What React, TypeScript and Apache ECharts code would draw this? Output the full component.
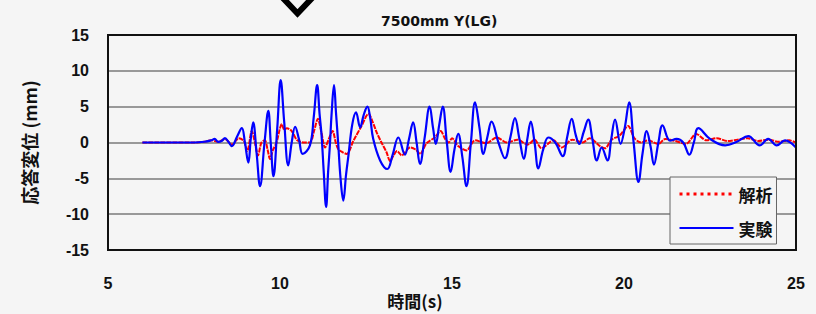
import React, { useEffect, useRef } from "react";
import * as echarts from "echarts";

const chartTitle = "7500mm Y(LG)";
const xAxisName = "時間(s)";
const yAxisName = "応答変位 (mm)";
const seriesNames = ["解析", "実験"];
const xTicks = { min: 5, max: 25, interval: 5 };
const yTicks = { min: -15, max: 15, interval: 5 };

// 実験 (experiment) – time [s]
const expTime = [
  6.0, 7.5, 7.8, 8.0, 8.1, 8.2, 8.3, 8.4, 8.5, 8.6, 8.75, 8.89, 8.98, 9.08, 9.15, 9.22, 9.32, 9.42, 9.55, 9.66,
  9.73, 9.81, 9.92, 10.02, 10.12, 10.24, 10.34, 10.44, 10.55, 10.66, 10.87, 10.98, 11.08, 11.15, 11.21, 11.27,
  11.34, 11.4, 11.45, 11.5, 11.57, 11.63, 11.69, 11.76, 11.84, 11.92, 11.99, 12.1, 12.21, 12.33, 12.43, 12.54,
  12.62, 12.71, 12.91, 13.12, 13.27, 13.44, 13.63, 13.75, 13.87, 13.97, 14.07, 14.2, 14.35, 14.45, 14.53, 14.63,
  14.73, 14.85, 14.96, 15.07, 15.18, 15.3, 15.42, 15.55, 15.67, 15.8, 15.91, 16.03, 16.15, 16.35, 16.54, 16.7,
  16.83, 16.96, 17.09, 17.19, 17.29, 17.4, 17.51, 17.65, 17.8, 18.0, 18.22, 18.35, 18.48, 18.6, 18.7, 18.83,
  18.96, 19.08, 19.21, 19.35, 19.52, 19.63, 19.74, 19.9, 20.02, 20.15, 20.28, 20.42, 20.54, 20.66, 20.77, 20.87,
  21.0, 21.12, 21.34, 21.53, 21.72, 21.9, 22.03, 22.16, 22.5, 22.94, 23.28, 23.61, 23.95, 24.19, 24.44, 24.68, 25.0,
];
// 実験 (experiment) – displacement [mm]
const expDisp = [
  0, 0, 0.1, 0.3, 0.5, 0.1, 0.2, 0.6, 0.1, -0.5, 0.8, 2.0, 0.0, -2.8, 0.5, 2.8, -1.5, -6.1, 0.0, 4.4,
  0.0, -4.7, 2.0, 8.7, 3.0, -3.2, 0.0, 2.2, 0.5, -1.6, -0.4, 3.5, 8.0, 4.0, 0.9, -4.0,
  -9.0, -4.0, -0.4, 4.0, 8.0, 4.0, 0.0, -5.0, -8.1, -4.5, -1.8, 2.5, 4.2, 2.1, 3.8, 5.0,
  3.5, 0.5, -2.5, -3.7, -1.8, 0.7, -1.7, 0.5, 2.8, 0.0, -3.0, 0.5, 5.0, 2.0, -0.2, 2.5,
  5.0, 0.0, -4.1, -1.0, 1.2, -2.0, -6.1, 0.0, 5.6, 2.0, -1.6, 0.8, 2.9, 0.0, -2.2, 0.8,
  3.4, 0.5, -2.3, 0.5, 2.9, 0.0, -3.6, -1.0, 0.7, 0.0, -1.9, 0.8, 3.3, 1.0, -0.2, 1.5,
  3.2, 0.5, -2.5, -0.7, -2.5, 0.5, 3.2, -0.2, 2.0, 5.6, 0.0, -5.5, -1.5, 1.6, -0.5, -3.1,
  0.0, 2.4, 0.25, 0.5, 0.0, -1.7, 0.0, 2.0, 0.5, -0.4, 0.1, 0.9, -0.4, 0.5, -0.4, 0.3, -0.7,
];

// 解析 (analysis) – time [s]
const anaTime = [
  6.0, 7.5, 7.8, 8.0, 8.2, 8.4, 8.6, 8.8, 8.95, 9.05, 9.18, 9.27, 9.36, 9.46, 9.56, 9.64, 9.71, 9.8, 9.9, 10.0,
  10.05, 10.12, 10.2, 10.34, 10.5, 10.7, 10.87, 11.0, 11.1, 11.2, 11.31, 11.42, 11.53, 11.62, 11.69, 11.8, 11.94,
  12.13, 12.37, 12.57, 12.7, 12.81, 12.95, 13.1, 13.2, 13.3, 13.4, 13.54, 13.78, 13.95, 14.07, 14.26, 14.5, 14.67,
  14.8, 14.9, 15.0, 15.18, 15.42, 15.67, 15.99, 16.3, 16.6, 16.9, 17.2, 17.4, 17.6, 17.95, 18.19, 18.5, 18.8, 19.0,
  19.3, 19.45, 19.64, 19.87, 20.12, 20.3, 20.5, 20.7, 21.0, 21.2, 21.5, 21.8, 22.1, 22.4, 22.7, 23.0, 23.3, 23.6,
  23.9, 24.2, 24.5, 24.8, 25.0,
];
// 解析 (analysis) – displacement [mm]
const anaDisp = [
  0, 0, 0.1, 0.3, 0.1, 0.5, -0.3, 0.6, 0.2, -1.2, 1.6, 0.0, -1.8, 0.0, 0.3, -1.0, -2.3, -1.0, 0.0, 2.0,
  2.6, 1.8, 2.0, 1.6, 0.3, 0.0, 0.0, 1.8, 3.3, 1.5, -0.7, 0.5, 1.6, 0.0, -0.9, -1.3, -1.6,
  0.2, 2.3, 4.0, 2.8, 1.4, 0.0, -1.4, -2.6, -1.8, -1.2, -1.8, -0.7, -1.0, -1.6, -0.1, 0.7, 1.6,
  0.5, 0.0, 0.6, -0.5, -1.1, 0.3, -0.1, 0.7, 0.0, 0.4, -0.3, 0.4, -0.8, 0.3, -0.7, 0.4, 0.0, 0.6,
  -0.5, -0.8, 0.4, 0.95, 2.3, 0.6, 0.0, 0.3, -0.2, 0.5, 0.2, -0.2, 1.2, 0.3, 0.6, 0.2, 0.4, 0.6,
  0.2, 0.4, 0.1, 0.3, 0.0,
];

const zip = (xs: number[], ys: number[]) => xs.map((x, i) => [x, ys[i]]);

const BG = "#f5f5f5";
const TITLE_FONT = "'DejaVu Sans', sans-serif";
const LATIN = "'Liberation Sans', Arial, sans-serif";
const CJK = "'Noto Sans CJK JP', sans-serif";

export default function App() {
  const ref = useRef<HTMLDivElement>(null);

  useEffect(() => {
    document.body.style.margin = "0";
    document.body.style.background = BG;
    if (!ref.current) return;
    const chart = echarts.init(ref.current, undefined, { renderer: "svg" });
    const gridL = 108, gridT = 35, gridR = 20, gridB = 64;
    chart.setOption({
      animation: false,
      backgroundColor: BG,
      title: {
        text: chartTitle,
        left: 381,
        top: 14,
        padding: 0,
        textStyle: { fontFamily: TITLE_FONT, fontSize: 14, fontWeight: "bold", color: "#111" },
      },
      grid: {
        left: gridL,
        top: gridT,
        right: gridR,
        bottom: gridB,
        containLabel: false,
        outerBoundsMode: "none",
      },
      legend: {
        left: 670,
        top: 177,
        orient: "vertical",
        backgroundColor: BG,
        borderColor: "#666",
        borderWidth: 1,
        borderRadius: 0,
        padding: [8, 4, 7, 8],
        itemWidth: 54,
        itemHeight: 14,
        itemGap: 16,
        itemStyle: { opacity: 0 },
        textStyle: { fontFamily: CJK, fontSize: 17, fontWeight: "bold", color: "#111", lineHeight: 18 },
        data: [
          { name: seriesNames[0], itemStyle: { opacity: 0 }, lineStyle: { type: [3, 4], width: 3, color: "#ff0000" } },
          { name: seriesNames[1], itemStyle: { opacity: 0 }, lineStyle: { width: 2, color: "#0000ff" } },
        ],
      },
      xAxis: {
        type: "value",
        min: xTicks.min,
        max: xTicks.max,
        interval: xTicks.interval,
        name: xAxisName,
        nameLocation: "middle",
        nameGap: 41,
        nameMoveOverlap: false,
        nameTextStyle: {
          fontFamily: CJK,
          fontSize: 17,
          fontWeight: "bold",
          color: "#111",
          lineHeight: 18,
          padding: [0, 74, 0, 0],
        },
        axisLine: { show: false, onZero: false },
        axisTick: { show: false },
        splitLine: { show: false },
        axisLabel: { margin: 25, fontFamily: LATIN, fontSize: 16, fontWeight: "bold", color: "#111" },
      },
      yAxis: {
        type: "value",
        min: yTicks.min,
        max: yTicks.max,
        interval: yTicks.interval,
        name: yAxisName,
        nameLocation: "middle",
        nameGap: 70,
        nameMoveOverlap: false,
        nameTextStyle: { fontFamily: CJK, fontSize: 18, fontWeight: "bold", color: "#111" },
        axisLine: { show: false, onZero: false },
        axisTick: { show: false },
        splitLine: { show: true, lineStyle: { color: "#7a7a7a", width: 1.5 } },
        axisLabel: { margin: 19, fontFamily: LATIN, fontSize: 16, fontWeight: "bold", color: "#111", padding: [6, 0, 0, 0] },
      },
      series: [
        {
          name: seriesNames[0],
          type: "line",
          data: zip(anaTime, anaDisp),
          symbol: "none",
          showSymbol: false,
          smooth: 0.3,
          lineStyle: { color: "#ff0000", width: 2, type: [5, 1] },
          itemStyle: { color: "#ff0000" },
          z: 2,
        },
        {
          name: seriesNames[1],
          type: "line",
          data: zip(expTime, expDisp),
          symbol: "none",
          showSymbol: false,
          smooth: 0.4,
          lineStyle: { color: "#0000ff", width: 2.2 },
          itemStyle: { color: "#0000ff" },
          z: 3,
        },
      ],
      graphic: [
        {
          type: "rect",
          z: 100,
          silent: true,
          shape: { x: gridL, y: gridT, width: 816 - gridL - gridR, height: 314 - gridT - gridB },
          style: { fill: "none", stroke: "#111", lineWidth: 2 },
        },
        {
          type: "polyline",
          z: 100,
          silent: true,
          shape: { points: [[281, -4], [297.5, 13.5], [314, -4]] },
          style: { fill: "none", stroke: "#000", lineWidth: 6, lineJoin: "miter" },
        },
      ],
    });
    return () => chart.dispose();
  }, []);

  return (
    <div
      ref={ref}
      style={{ position: "absolute", left: 0, top: 0, width: 816, height: 314, background: BG }}
    />
  );
}
